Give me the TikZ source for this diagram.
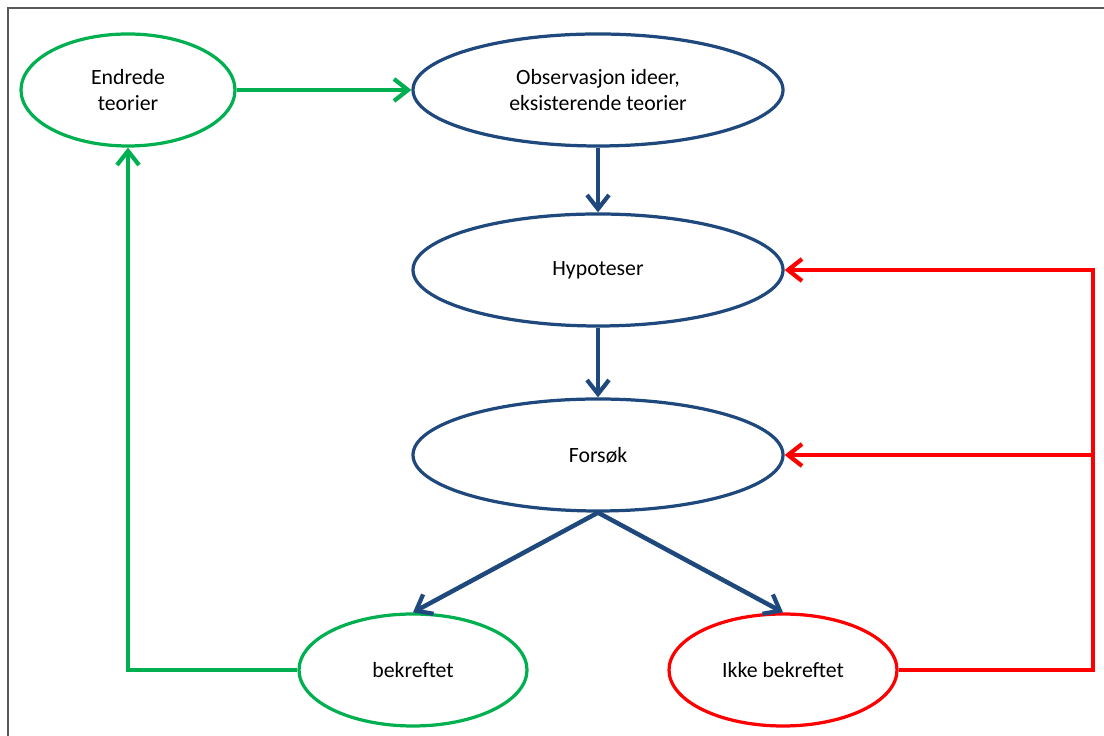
\documentclass[tikz,border=0pt]{standalone}
\usepackage{fontspec}
\setmainfont{Carlito}
\usepackage{tikz}
\usetikzlibrary{arrows.meta, positioning, shapes.geometric}
\definecolor{flowblue}{RGB}{31, 73, 125}
\definecolor{flowgreen}{RGB}{0, 176, 80}
\definecolor{flowred}{RGB}{255, 0, 0}

\begin{document}
\begin{tikzpicture}[
    oval/.style={ellipse, draw=#1, line width=2.3pt, inner sep=0pt, align=center,
        text=black, minimum height=2.8cm, font=\fontsize{15.5}{19}\selectfont},
    bigoval/.style={oval=flowblue, minimum width=9.25cm},
    smalloval/.style={oval=#1, minimum width=5.7cm},
    flow/.style={line width=3.2pt, line join=miter,
        -{Straight Barb[length=3.5mm, width=5.5mm, line width=3pt]}}
]
    \useasboundingbox (0,0) rectangle (27.6,18.4);
    \draw[gray!70!black, line width=1pt] (0.2,0) -- (0.2,18.2) -- (27.6,18.2);

    \node[smalloval=flowgreen, minimum width=5.35cm] (endrede) at (3.2,16.15) {Endrede\\teorier};
    \node[bigoval] (observ) at (14.95,16.15) {Observasjon ideer,\\eksisterende teorier};
    \node[bigoval] (hypo) at (14.95,11.65) {Hypoteser};
    \node[bigoval] (forsok) at (14.95,7.025) {Forsøk};
    \node[smalloval=flowgreen] (bekr) at (10.325,1.65) {bekreftet};
    \node[smalloval=flowred] (ikke) at (19.575,1.65) {Ikke bekreftet};

    \coordinate (redlow) at (27.33,1.65);
    \coordinate (redmid) at (27.33,7.025);

    \draw[flow, flowgreen] (endrede) -- (observ);
    \draw[flow, flowblue] (observ) -- (hypo);
    \draw[flow, flowblue] (hypo) -- (forsok);
    \draw[flow, flowblue] (forsok.south) -- (bekr.north);
    \draw[flow, flowblue] (forsok.south) -- (ikke.north);

    \draw[flow, flowgreen] (bekr.west) -| (endrede.south);
    \draw[flow, flowred] (ikke.east) -- (redlow) |- (hypo.east);
    \draw[flow, flowred] (redmid) -- (forsok.east);
\end{tikzpicture}
\end{document}
